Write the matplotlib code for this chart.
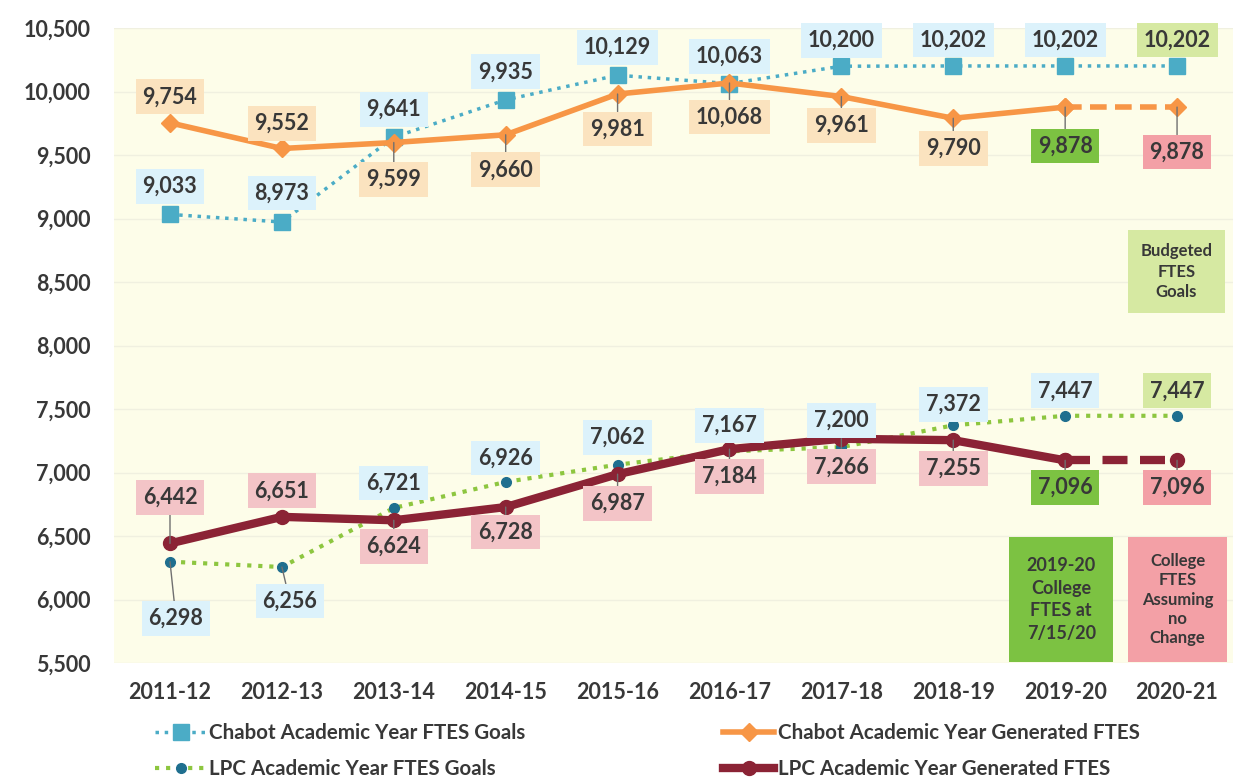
import matplotlib
matplotlib.use('Agg')
import matplotlib.pyplot as plt
from matplotlib.lines import Line2D
from matplotlib.patches import Rectangle
from matplotlib.ticker import FuncFormatter

years = ['2011-12', '2012-13', '2013-14', '2014-15', '2015-16',
         '2016-17', '2017-18', '2018-19', '2019-20', '2020-21']
chabot_goals = [9033, 8973, 9641, 9935, 10129, 10063, 10200, 10202, 10202, 10202]
chabot_gen = [9754, 9552, 9599, 9660, 9981, 10068, 9961, 9790, 9878, 9878]
lpc_goals = [6298, 6256, 6721, 6926, 7062, 7167, 7200, 7372, 7447, 7447]
lpc_gen = [6442, 6651, 6624, 6728, 6987, 7184, 7266, 7255, 7096, 7096]

# label offsets in pixels (dx, dy), positive dy = up
off_cg = [(0, 28), (0, 29), (0, 28), (0, 28), (0, 28), (0, 27), (0, 26), (0, 26), (0, 26), (0, 26)]
off_cn = [(0, 26), (0, 25), (0, -37), (0, -35), (0, -35), (0, -34), (0, -29), (0, -30), (0, -39), (0, -45)]
off_lg = [(6, -57), (8, -34), (0, 25), (0, 24), (0, 27), (0, 26), (0, 27), (0, 21), (0, 25), (0, 25)]
off_ln = [(0, 46), (0, 26), (0, -26), (0, -25), (0, -29), (0, -27), (0, -28), (0, -28), (0, -27), (0, -27)]

c_teal = '#4bacc6'
c_orange = '#f79646'
c_green = '#8dc63f'
c_blue = '#1f6f8f'
c_red = '#8b2335'
txt = '#383838'

box_blue = '#dcf2fb'
box_tan = '#fbe3bf'
box_pink = '#f3c4c7'
box_green = '#7cc242'
box_rose = '#f3a0a6'
box_lime = '#d6e9a2'

plt.rcParams['font.family'] = ['Lato', 'DejaVu Sans']
plt.rcParams['font.weight'] = 'bold'

fig = plt.figure(figsize=(12.33, 7.79), dpi=100)
ax = fig.add_axes([0.0925, 0.1489, 0.9075, 0.815])
ax.set_facecolor('#fdfde9')
x = list(range(len(years)))

ax.plot(x, chabot_goals, ls=':', lw=2.5, color=c_teal, marker='s', ms=11,
        mfc=c_teal, mec=c_teal, zorder=3)
ax.plot(x[:9], chabot_gen[:9], '-', lw=4, color=c_orange, marker='D', ms=9, zorder=4)
ax.plot(x[8:], chabot_gen[8:], '--', lw=4, color=c_orange, marker='D', ms=9,
        dashes=(3, 1.5), zorder=4)
ax.plot(x, lpc_goals, ls=':', lw=3, color=c_green, zorder=3)
ax.plot(x, lpc_goals, ls='none', marker='o', ms=7, color=c_blue, zorder=3)
ax.plot(x[:9], lpc_gen[:9], '-', lw=6, color=c_red, marker='o', ms=10, zorder=4)
ax.plot(x[8:], lpc_gen[8:], '--', lw=6, color=c_red, marker='o', ms=10,
        dashes=(3, 1.5), zorder=4)


def label(vals, offs, colors):
    for i, v in enumerate(vals):
        dx, dy = offs[i]
        arrow = None
        if dy < 0 or dy > 40:
            arrow = dict(arrowstyle='-', color='#707070', lw=1, shrinkA=0, shrinkB=0)
        ax.annotate(f'{v:,}', (i, v), xytext=(dx * 0.72, dy * 0.72),
                    textcoords='offset points', ha='center', va='center',
                    fontsize=15.5, color=txt, fontweight='bold', zorder=6,
                    bbox=dict(boxstyle='square,pad=0.32', fc=colors[i], ec='none'),
                    arrowprops=arrow)


label(chabot_goals, off_cg, [box_blue] * 9 + [box_lime])
label(chabot_gen, off_cn, [box_tan] * 8 + [box_green, box_rose])
label(lpc_goals, off_lg, [box_blue] * 9 + [box_lime])
label(lpc_gen, off_ln, [box_pink] * 8 + [box_green, box_rose])

# note boxes
notes = [
    ((8.56, 8256), 0.87, 653, box_lime, 'Budgeted\nFTES\nGoals', 12, 1.35),
    ((7.50, 5508), 0.93, 984, box_green, '2019-20\nCollege\nFTES at\n7/15/20', 13, 1.4),
    ((8.56, 5508), 0.89, 984, box_rose, 'College\nFTES\nAssuming\nno\nChange', 12, 1.25),
]
for (x0, y0), w, h, fc, s, fs, ls in notes:
    ax.add_patch(Rectangle((x0, y0), w, h, fc=fc, ec='none', zorder=5))
    ax.text(x0 + w / 2, y0 + h / 2, s, ha='center', va='center', fontsize=fs,
            color=txt, linespacing=ls, zorder=6)

ax.set_xlim(-0.5, 9.5)
ax.set_ylim(5500, 10500)
ax.set_yticks(range(5500, 10501, 500))
ax.yaxis.set_major_formatter(FuncFormatter(lambda v, p: f'{int(v):,}'))
ax.set_xticks(x)
ax.set_xticklabels(years)
ax.tick_params(length=0, labelsize=15.5, labelcolor=txt)
ax.tick_params(axis='y', pad=17)
ax.tick_params(axis='x', pad=14)
ax.grid(axis='y', color='#f0f0e0', lw=1)
ax.set_axisbelow(True)
for s in ax.spines.values():
    s.set_visible(False)

handles = [
    Line2D([], [], ls=':', lw=2.5, color=c_teal, marker='s', ms=11),
    Line2D([], [], ls=':', lw=3, color=c_green, marker='o', ms=7, mfc=c_blue, mec=c_blue),
    Line2D([], [], ls='-', lw=4, color=c_orange, marker='D', ms=9),
    Line2D([], [], ls='-', lw=6, color=c_red, marker='o', ms=10),
]
names = ['Chabot Academic Year FTES Goals', 'LPC Academic Year FTES Goals',
         'Chabot Academic Year Generated FTES', 'LPC Academic Year Generated FTES']
leg = fig.legend(handles, names, ncol=2, loc='upper left', bbox_to_anchor=(0.1257, 0.072),
                 frameon=False, fontsize=14.8, handlelength=2.5, handletextpad=0.15,
                 columnspacing=9.6, labelspacing=0.78, borderaxespad=0, borderpad=0)
for t in leg.get_texts():
    t.set_color(txt)

fig.savefig('out.png', dpi=100, facecolor='white')
